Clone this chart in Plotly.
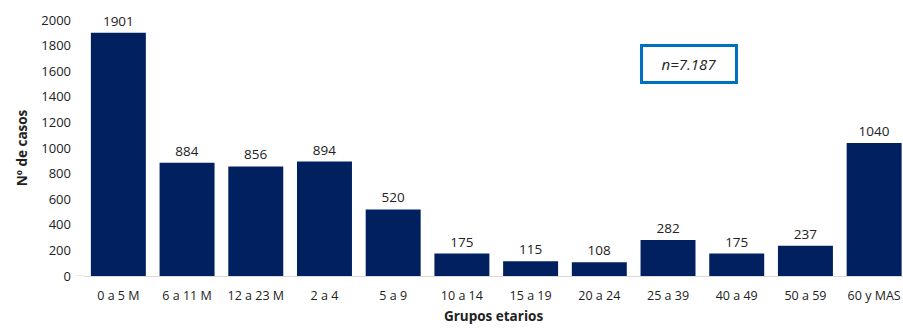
import plotly.graph_objects as go

categories = ["0 a 5 M", "6 a 11 M", "12 a 23 M", "2 a 4", "5 a 9", "10 a 14",
              "15 a 19", "20 a 24", "25 a 39", "40 a 49", "50 a 59", "60 y MAS"]
casos = [1901, 884, 856, 894, 520, 175, 115, 108, 282, 175, 237, 1040]
y_ticks = [0, 200, 400, 600, 800, 1000, 1200, 1400, 1600, 1800, 2000]

FONT = "Open Sans"

fig = go.Figure()
fig.add_trace(go.Bar(
    x=categories, y=casos,
    marker=dict(color="#002060", line=dict(width=0)),
    text=[str(v) for v in casos], textposition="outside",
    textfont=dict(family=FONT, size=13.5, color="#222222"),
    cliponaxis=False,
))

fig.update_layout(
    width=903, height=328,
    margin=dict(l=84, r=0, t=20, b=52),
    paper_bgcolor="white", plot_bgcolor="white",
    bargap=0.2,
    showlegend=False,
    font=dict(family=FONT, size=12, color="#222222"),
    xaxis=dict(
        range=[-0.5, 11.42],
        showgrid=False, showline=True, linecolor="#d9d9d9", linewidth=1,
        tickfont=dict(family=FONT, size=12.5, color="#222222"),
        ticks="", ticklen=0, ticklabelstandoff=8,
        title=dict(text="<b>Grupos etarios</b>", font=dict(family=FONT, size=13.5, color="#222222"), standoff=8),
    ),
    yaxis=dict(
        range=[0, 2000], tickvals=y_ticks, showgrid=False, zeroline=False,
        showline=False, ticks="", ticklabelstandoff=12,
        tickfont=dict(family=FONT, size=13, color="#222222"),
        title=dict(text="<b>Nº de casos</b>", font=dict(family=FONT, size=13.5, color="#222222"), standoff=10),
    ),
)

# small extension of the base line to the left of the plot area
fig.add_shape(type="line", xref="paper", yref="y", x0=-9 / 819, x1=0, y0=0, y1=0,
              line=dict(color="#d9d9d9", width=1))

fig.add_annotation(
    xref="paper", yref="paper", x=(689 - 84) / 819, y=(276 - 64) / 256,
    xanchor="center", yanchor="middle",
    text="<i>n=7.187</i>", showarrow=False,
    font=dict(family=FONT, size=15, color="#222222"),
    bordercolor="#0070C0", borderwidth=3, borderpad=7, bgcolor="white",
    width=78,
)

fig.write_html("out.html")
